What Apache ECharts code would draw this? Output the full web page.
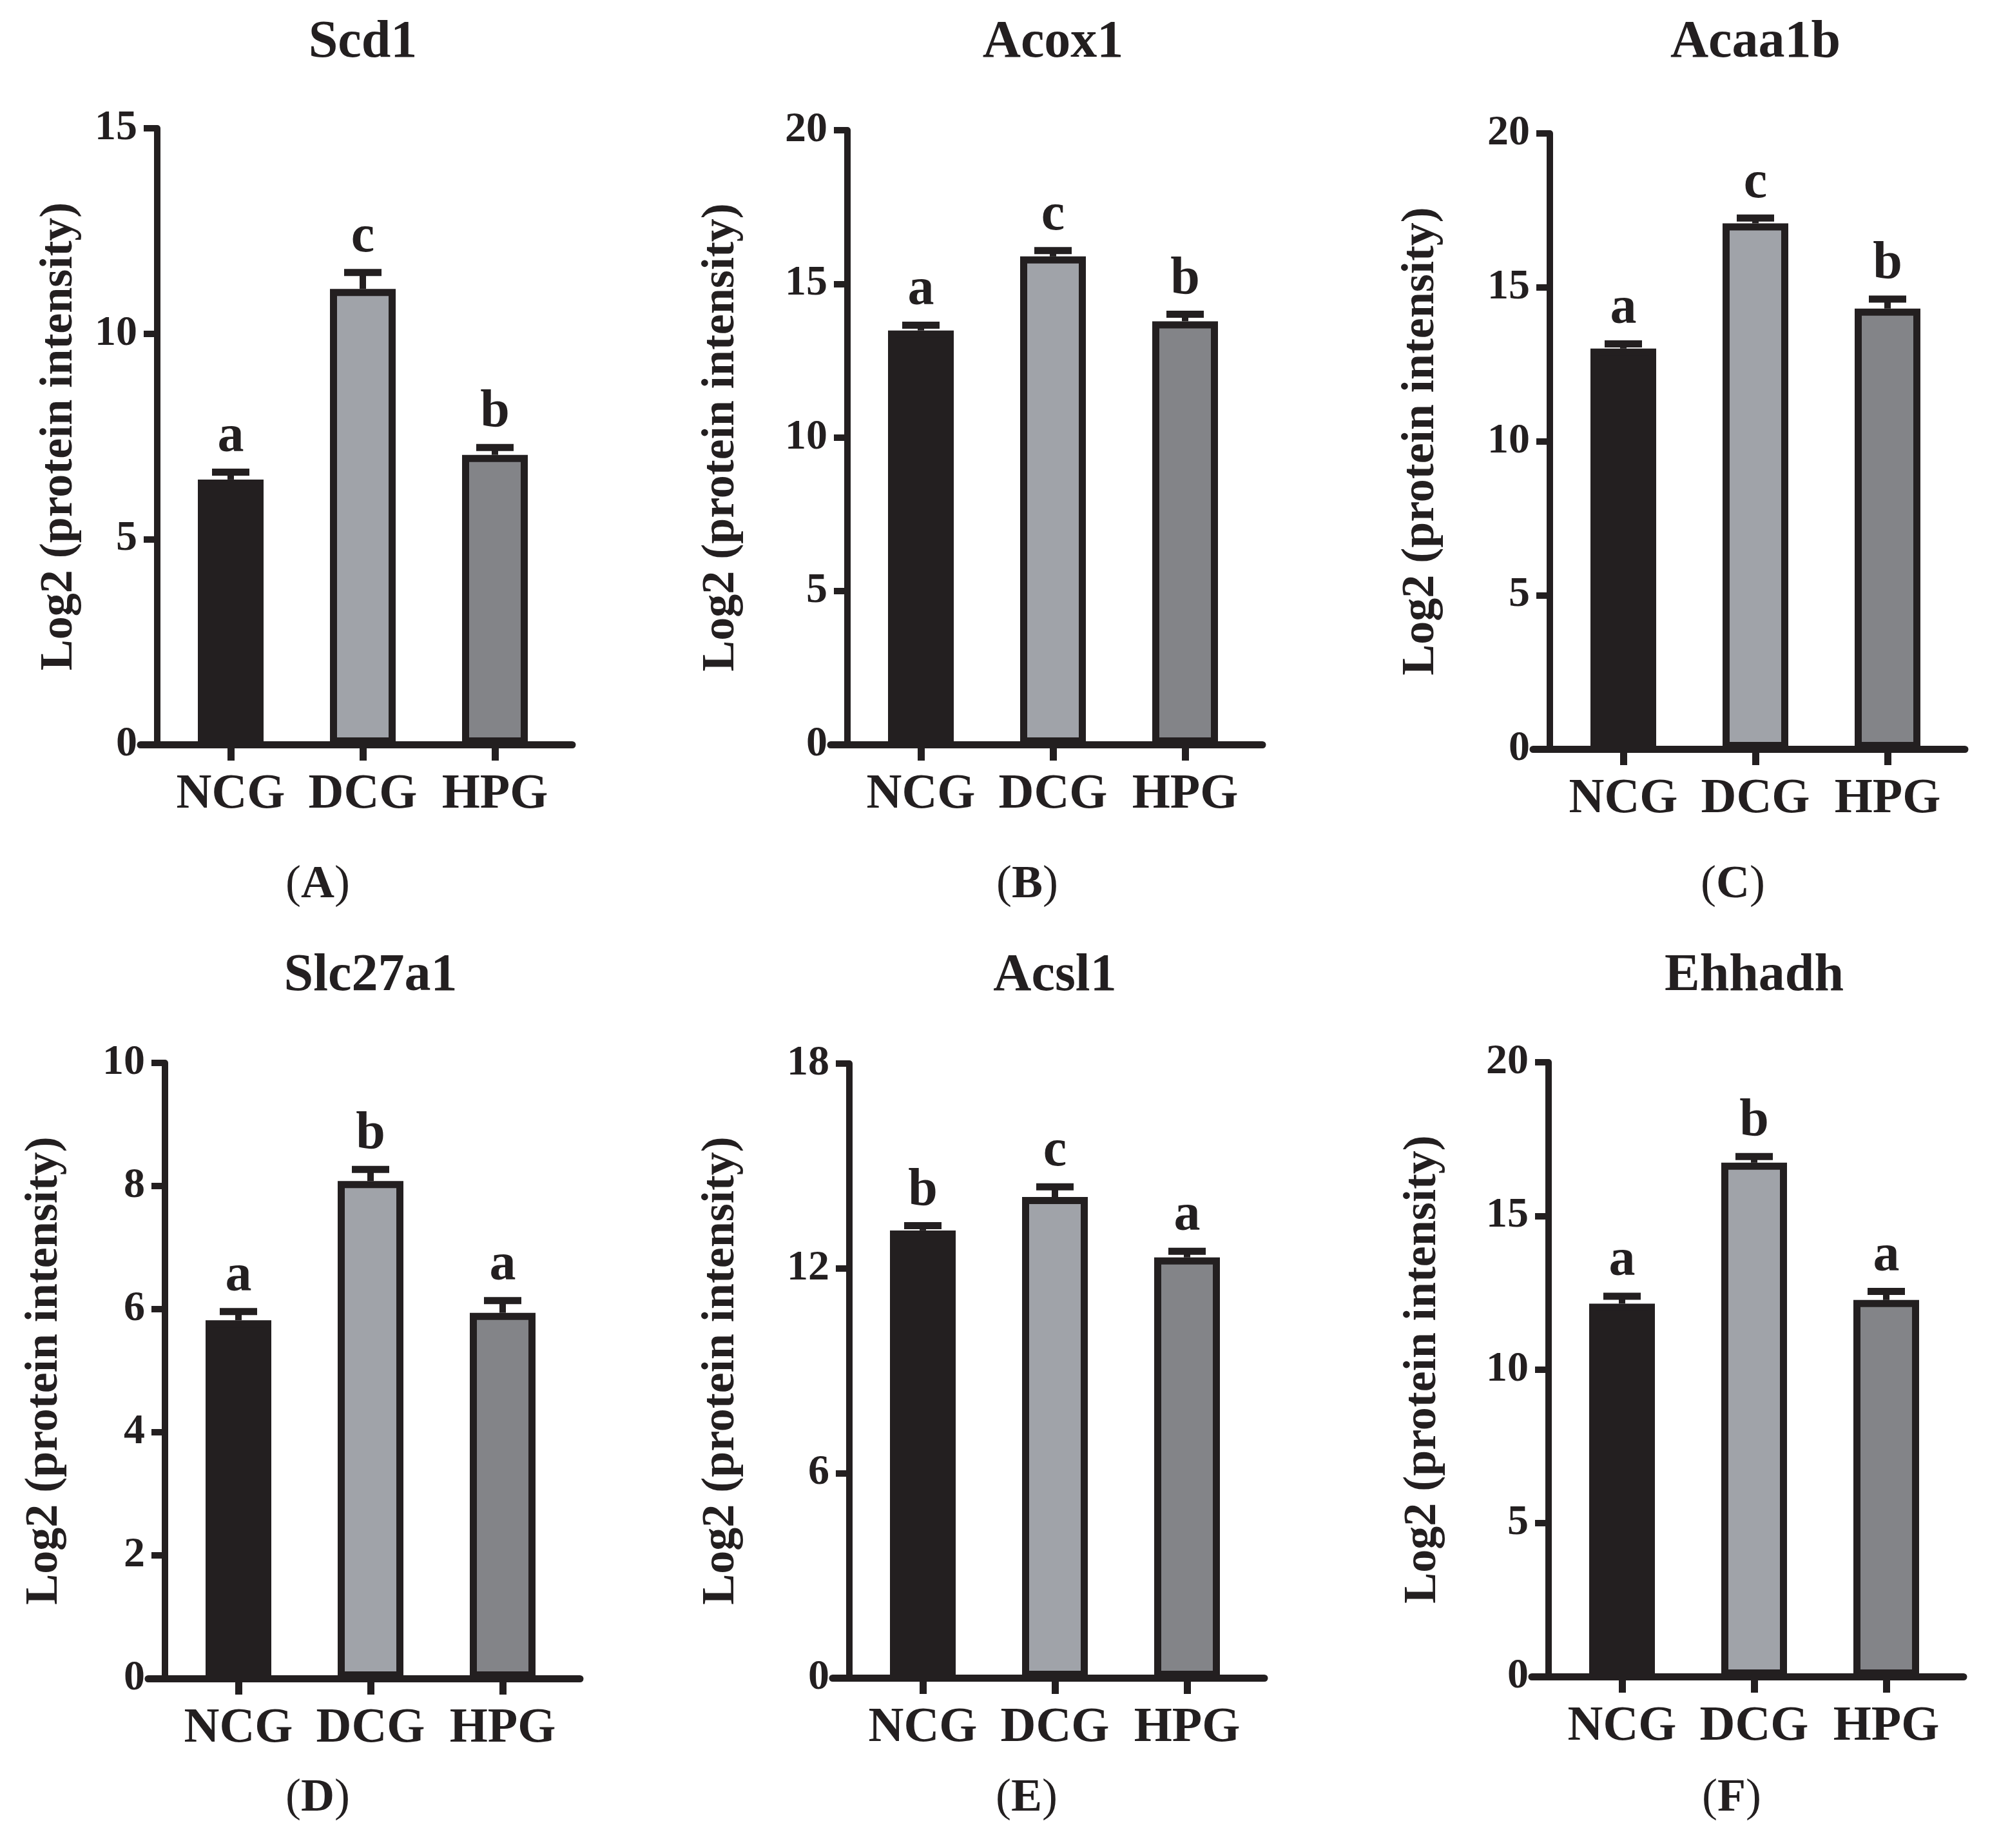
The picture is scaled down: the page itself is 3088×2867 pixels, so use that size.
<!DOCTYPE html>
<html>
<head>
<meta charset="utf-8">
<script src="https://cdn.jsdelivr.net/npm/echarts@6/dist/echarts.min.js"></script>
<style>
    html, body { margin: 0; padding: 0; background: #fff; }
    #chart { width: 3088px; height: 2867px; }
</style>
</head>
<body>
<div id="chart"></div>
<script>
// groups on the x axis
const groups = ['NCG', 'DCG', 'HPG'];

// one block of values per protein
const scd1Mean = [6.45, 11.09, 7.05];
const scd1Sem = [0.18, 0.40, 0.18];
const scd1Letters = ['a', 'c', 'b'];

const acox1Mean = [13.48, 15.89, 13.78];
const acox1Sem = [0.17, 0.19, 0.23];
const acox1Letters = ['a', 'c', 'b'];

const acaa1bMean = [13.01, 17.08, 14.31];
const acaa1bSem = [0.15, 0.17, 0.31];
const acaa1bLetters = ['a', 'c', 'b'];

const slc27a1Mean = [5.82, 8.08, 5.94];
const slc27a1Sem = [0.14, 0.19, 0.20];
const slc27a1Letters = ['a', 'b', 'a'];

const acsl1Mean = [13.11, 14.09, 12.32];
const acsl1Sem = [0.14, 0.30, 0.18];
const acsl1Letters = ['b', 'c', 'a'];

const ehhadhMean = [12.14, 16.73, 12.26];
const ehhadhSem = [0.24, 0.20, 0.28];
const ehhadhLetters = ['a', 'b', 'a'];

// y axis ranges and tick steps
const yMax = [15, 20, 20, 10, 18, 20];
const yStep = [5, 5, 5, 2, 6, 5];

const panelTitles = ['Scd1', 'Acox1', 'Acaa1b', 'Slc27a1', 'Acsl1', 'Ehhadh'];
const panelTags = ['A', 'B', 'C', 'D', 'E', 'F'];
const yName = 'Log2 (protein intensity)';

(function (echarts) {
    'use strict';

    const ink = '#231f20';
    const fills = ['#231f20', '#a0a3a9', '#838488'];
    const font = '"Liberation Serif", "Times New Roman", serif';

    const panels = [
        {mean: scd1Mean, sem: scd1Sem, letters: scd1Letters},
        {mean: acox1Mean, sem: acox1Sem, letters: acox1Letters},
        {mean: acaa1bMean, sem: acaa1bSem, letters: acaa1bLetters},
        {mean: slc27a1Mean, sem: slc27a1Sem, letters: slc27a1Letters},
        {mean: acsl1Mean, sem: acsl1Sem, letters: acsl1Letters},
        {mean: ehhadhMean, sem: ehhadhSem, letters: ehhadhLetters}
    ];

    // where each panel sits on the page (y axis line x, plot top / bottom)
    const layout = [
        {axisX: 244, top: 199, bottom: 1155, nameGap: 116, tagX: 493},
        {axisX: 1315, top: 202, bottom: 1155, nameGap: 160, tagX: 1594},
        {axisX: 2405, top: 207, bottom: 1162, nameGap: 164, tagX: 2689},
        {axisX: 256, top: 1649, bottom: 2604, nameGap: 151, tagX: 493},
        {axisX: 1318, top: 1650, bottom: 2603, nameGap: 163, tagX: 1593},
        {axisX: 2403, top: 1648, bottom: 2601, nameGap: 159, tagX: 2687}
    ];
    const titleBaseline = [95, 1543];
    const tagBaseline = [1397, 2814];

    const option = {
        animation: false,
        backgroundColor: '#fff',
        grid: [],
        xAxis: [],
        yAxis: [],
        series: [],
        graphic: []
    };

    panels.forEach(function (p, i) {
        const L = layout[i];
        const h = L.bottom - L.top;
        const gi = option.grid.length;
        const row = i < 3 ? 0 : 1;

        // plot grid + a slightly wider one that only carries the x axis line
        option.grid.push({left: L.axisX + 11.5, top: L.top, width: 615, height: h});
        option.grid.push({left: L.axisX - 26, top: L.top, width: 670, height: h});

        option.xAxis.push({
            type: 'category',
            gridIndex: gi,
            data: groups,
            axisLine: {show: false},
            axisTick: {show: true, alignWithLabel: true, length: 25, lineStyle: {color: ink, width: 11}},
            axisLabel: {
                interval: 0,
                hideOverlap: false,
                margin: 40,
                color: ink,
                fontFamily: font,
                fontWeight: 'bold',
                fontSize: 76
            },
            splitLine: {show: false}
        });
        option.xAxis.push({
            type: 'value',
            gridIndex: gi + 1,
            min: 0,
            max: 1,
            axisLine: {show: true, onZero: false, lineStyle: {color: ink, width: 11}},
            axisTick: {show: false},
            axisLabel: {show: false},
            splitLine: {show: false}
        });

        option.yAxis.push({
            type: 'value',
            gridIndex: gi,
            min: 0,
            max: yMax[i],
            interval: yStep[i],
            offset: 11.5,
            name: yName,
            nameLocation: 'middle',
            nameGap: L.nameGap,
            nameTextStyle: {color: ink, fontFamily: font, fontWeight: 'bold', fontSize: 72},
            axisLine: {show: true, onZero: false, lineStyle: {color: ink, width: 10}},
            axisTick: {show: true, length: 21, lineStyle: {color: ink, width: 10}},
            axisLabel: {margin: 31, color: ink, fontFamily: font, fontWeight: 'bold', fontSize: 66},
            splitLine: {show: false}
        });
        option.yAxis.push({type: 'value', gridIndex: gi + 1, min: 0, max: 1, show: false});

        option.series.push({
            type: 'bar',
            xAxisIndex: gi,
            yAxisIndex: gi,
            barWidth: 102,
            itemStyle: {borderColor: ink, borderWidth: 11},
            data: p.mean.map(function (v, j) {
                return {value: v, itemStyle: {color: fills[j]}};
            })
        });

        const letters = p.letters;
        option.series.push({
            type: 'custom',
            xAxisIndex: gi,
            yAxisIndex: gi,
            z: 5,
            data: p.mean.map(function (v, j) {
                return [j, v, p.sem[j]];
            }),
            encode: {x: 0, y: 1},
            renderItem: function (params, api) {
                const j = api.value(0);
                const m = api.value(1);
                const s = api.value(2);
                const base = api.coord([j, m]);
                const top = api.coord([j, m + s]);
                return {
                    type: 'group',
                    children: [
                        {
                            type: 'line',
                            shape: {x1: base[0], y1: base[1], x2: top[0], y2: top[1]},
                            style: {stroke: ink, lineWidth: 10}
                        },
                        {
                            type: 'line',
                            shape: {x1: top[0] - 29, y1: top[1], x2: top[0] + 29, y2: top[1]},
                            style: {stroke: ink, lineWidth: 11}
                        },
                        {
                            type: 'text',
                            x: top[0],
                            y: top[1] - 54,
                            style: {
                                text: letters[params.dataIndex],
                                fill: ink,
                                fontFamily: font,
                                fontWeight: 'bold',
                                fontSize: 82,
                                align: 'center',
                                verticalAlign: 'middle'
                            }
                        }
                    ]
                };
            }
        });

        // panel title and (A)..(F) tag
        option.graphic.push({
            type: 'text',
            x: L.axisX + 319,
            y: titleBaseline[row] - 28,
            style: {
                text: panelTitles[i],
                fill: ink,
                fontFamily: font,
                fontWeight: 'bold',
                fontSize: 82,
                align: 'center',
                verticalAlign: 'middle'
            }
        });
        option.graphic.push({
            type: 'text',
            x: L.tagX,
            y: tagBaseline[row] - 24,
            style: {
                text: '{p|(}{b|' + panelTags[i] + '}{p|)}',
                align: 'center',
                verticalAlign: 'middle',
                rich: {
                    p: {fill: ink, fontFamily: font, fontSize: 72},
                    b: {fill: ink, fontFamily: font, fontWeight: 'bold', fontSize: 72}
                }
            }
        });
    });

    const chart = echarts.init(document.getElementById('chart'), null, {renderer: 'canvas'});
    chart.setOption(option);

    window.addEventListener('resize', function () {
        chart.resize();
    });
})(echarts);
</script>
</body>
</html>
